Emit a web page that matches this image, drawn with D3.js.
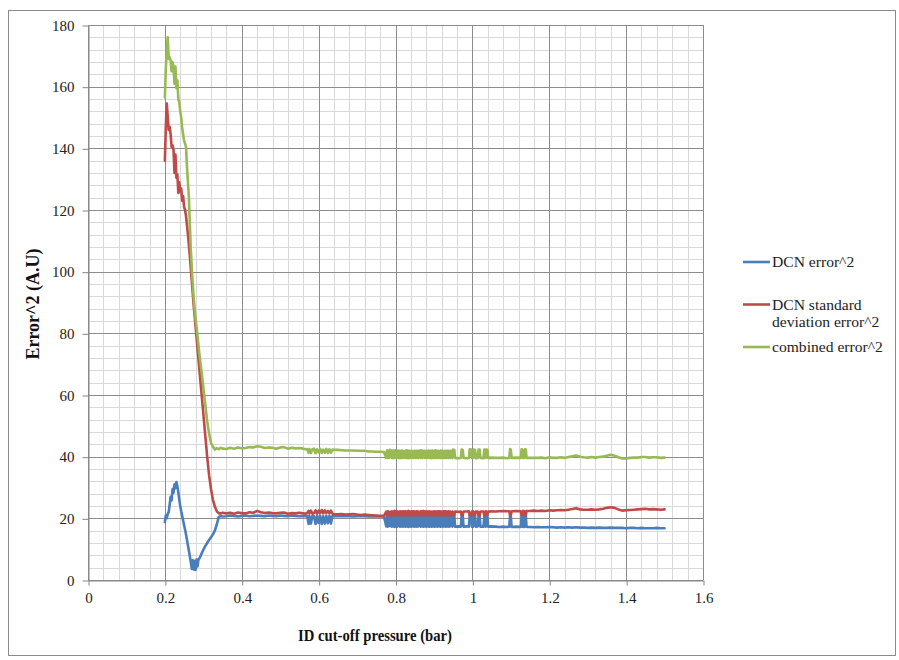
<!DOCTYPE html>
<html>
<head>
<meta charset="utf-8">
<script src="https://cdn.jsdelivr.net/npm/d3@7/dist/d3.min.js"></script>
<style>
  html, body { margin: 0; padding: 0; background: #ffffff; }
  svg { display: block; }
</style>
</head>
<body>
<svg id="chart" width="899" height="660"></svg>
<script>
// ID cut-off pressure (bar)
const pressure = [
  // steep region below 0.3 bar
  0.200, 0.2025, 0.205, 0.2075, 0.210, 0.2125, 0.215, 0.2175, 0.220, 0.2225,
  0.225, 0.2275, 0.230, 0.2325, 0.235, 0.2375, 0.240, 0.2425, 0.245, 0.2475,
  0.250, 0.2525, 0.255, 0.2575, 0.260, 0.2625, 0.265, 0.2675, 0.270, 0.2725,
  0.275, 0.2775, 0.280, 0.2825, 0.285, 0.2875, 0.290,
  0.295, 0.300, 0.305, 0.310, 0.315, 0.320, 0.325, 0.330, 0.335, 0.340, 0.345, 0.350,
  // plateau
  0.36, 0.37, 0.38, 0.39, 0.40, 0.41, 0.42, 0.43, 0.44, 0.45,
  0.46, 0.47, 0.48, 0.49, 0.50, 0.51, 0.52, 0.53, 0.54, 0.55, 0.56, 0.565, 0.570,
  0.574, 0.576, 0.580, 0.584, 0.588, 0.592, 0.596, 0.600, 0.604, 0.608,
  0.612, 0.616, 0.620, 0.624, 0.628, 0.632, 0.636,
  0.64, 0.65, 0.66, 0.67, 0.68, 0.69, 0.70, 0.71, 0.72, 0.73, 0.74, 0.75, 0.76, 0.77,
  // switching region
  0.776, 0.778, 0.780, 0.782, 0.784, 0.786, 0.788, 0.790, 0.792, 0.794,
  0.796, 0.798, 0.800, 0.802, 0.804, 0.806, 0.808, 0.810, 0.812, 0.814,
  0.816, 0.818, 0.820, 0.822, 0.824, 0.826, 0.828, 0.830, 0.832, 0.834,
  0.836, 0.838, 0.840, 0.842, 0.844, 0.846, 0.848, 0.850, 0.852, 0.854,
  0.856, 0.858, 0.860, 0.862, 0.864, 0.866, 0.868, 0.870, 0.872, 0.874,
  0.876, 0.878, 0.880, 0.882, 0.884, 0.886, 0.888, 0.890, 0.892, 0.894,
  0.896, 0.898, 0.900, 0.902, 0.904, 0.906, 0.908, 0.910, 0.912, 0.914,
  0.916, 0.918, 0.920, 0.922, 0.924, 0.926, 0.928, 0.930, 0.932, 0.934,
  0.936, 0.938, 0.940, 0.942, 0.944,
  // isolated switches
  0.948, 0.950, 0.953, 0.955, 0.965, 0.970, 0.972, 0.975, 0.977, 0.988,
  0.991, 0.993, 0.997, 0.999, 1.002, 1.004, 1.007, 1.009, 1.014, 1.016,
  1.019, 1.021, 1.029, 1.031, 1.033, 1.035, 1.037, 1.039, 1.041, 1.050,
  1.060, 1.070, 1.080, 1.090, 1.096, 1.098, 1.100, 1.102, 1.115, 1.126,
  1.128, 1.130, 1.132, 1.135, 1.137, 1.139, 1.141,
  // tail
  1.15, 1.16, 1.17, 1.18, 1.19, 1.20, 1.21, 1.22, 1.23, 1.24,
  1.25, 1.26, 1.27, 1.28, 1.29, 1.30, 1.31, 1.32, 1.33, 1.34,
  1.35, 1.36, 1.37, 1.38, 1.39, 1.40, 1.41, 1.42, 1.43, 1.44,
  1.45, 1.46, 1.47, 1.48, 1.49, 1.50
];

// DCN error^2
const dcnError = [
  18.8, 21.0, 20.0, 21.5, 22.0, 24.5, 27.0, 25.8, 29.5, 28.3,
  31.0, 29.8, 31.8, 30.4, 28.5, 26.0, 24.0, 22.3, 20.8, 19.3,
  17.8, 16.3, 14.8, 13.0, 11.2, 9.5, 7.6, 5.8, 3.6, 6.4,
  3.4, 6.2, 3.3, 6.6, 4.4, 6.8, 7.0,
  8.4, 9.8, 11.0, 12.0, 13.0, 13.9, 14.8, 16.0, 18.0, 20.4, 20.8, 20.6,
  20.7, 20.9, 20.8, 20.6, 20.8, 20.9, 20.7, 20.8, 20.9, 20.8,
  20.7, 20.9, 20.8, 20.7, 20.9, 20.8, 20.7, 20.9, 20.8, 20.7, 20.8, 20.7, 20.8,
  18.2, 20.8, 18.3, 20.8, 20.7, 18.2, 20.8, 18.5, 20.8, 18.2,
  20.7, 18.3, 20.8, 18.4, 20.8, 18.3, 20.8,
  20.7, 20.8, 20.7, 20.8, 20.7, 20.6, 20.7, 20.8, 20.7, 20.6, 20.7, 20.6, 20.7, 20.6,
  17.4, 21.0, 17.3, 20.9, 17.5, 21.1, 20.8, 17.3, 21.0, 17.4,
  20.9, 17.2, 21.1, 17.4, 17.3, 20.9, 17.5, 21.0, 17.3, 20.8,
  17.4, 21.0, 17.3, 17.4, 20.9, 17.3, 21.1, 17.4, 20.9, 17.2,
  21.0, 17.4, 20.8, 17.3, 21.0, 17.4, 17.3, 20.9, 17.4, 21.0,
  17.3, 20.9, 17.4, 21.0, 20.9, 17.3, 21.1, 17.4, 17.3, 20.9,
  17.4, 21.0, 17.3, 20.8, 17.4, 21.0, 17.3, 17.5, 20.9, 17.3,
  21.0, 17.4, 20.9, 17.3, 21.1, 17.4, 20.8, 17.3, 21.0, 17.4,
  17.3, 21.0, 17.4, 20.9, 17.3, 17.4, 21.0, 17.3, 20.9, 17.4,
  21.0, 17.3, 20.9, 17.4, 21.0,
  17.3, 21.0, 20.9, 17.3, 17.4, 17.3, 21.0, 20.9, 17.3, 17.4,
  17.3, 21.0, 20.9, 17.3, 17.3, 21.0, 20.9, 17.3, 17.4, 21.0,
  21.0, 17.3, 17.3, 21.0, 20.9, 17.3, 21.0, 20.9, 17.3, 17.4,
  17.3, 17.2, 17.3, 17.2, 17.3, 21.0, 20.9, 17.2, 17.3, 17.2,
  21.0, 20.9, 17.2, 17.2, 21.0, 20.9, 17.2,
  17.2, 17.1, 17.2, 17.1, 17.1, 17.2, 17.1, 17.0, 17.1, 17.0,
  17.1, 17.0, 17.1, 17.0, 17.0, 16.9, 17.0, 16.9, 17.0, 16.9,
  16.9, 17.0, 16.9, 16.9, 16.9, 16.8, 16.9, 16.9, 16.8, 16.9,
  16.8, 16.8, 16.8, 16.9, 16.8, 16.8
];

// DCN standard deviation error^2
const dcnStdError = [
  136.0, 147.0, 154.5, 150.0, 146.0, 147.0, 144.5, 140.5, 141.0, 139.5,
  132.0, 138.0, 130.5, 131.5, 125.5, 129.0, 126.0, 127.0, 123.0, 124.5,
  121.0, 120.0, 118.0, 115.0, 112.0, 108.5, 105.0, 101.0, 97.0, 93.0,
  89.0, 85.5, 82.0, 78.5, 75.0, 71.5, 68.0,
  61.0, 54.0, 47.0, 40.0, 34.0, 29.5, 26.0, 23.8, 22.3, 21.7, 21.6, 21.8,
  21.6, 21.8, 21.5, 21.9, 21.7, 21.6, 22.0, 21.8, 22.4, 22.0,
  21.7, 21.9, 21.7, 21.6, 21.8, 21.9, 21.5, 21.7, 21.6, 21.8, 21.6, 21.5, 21.7,
  22.4, 21.6, 22.5, 21.5, 21.7, 22.6, 21.5, 22.5, 21.7, 22.7,
  21.6, 22.6, 21.7, 22.4, 21.6, 22.5, 21.5,
  21.4, 21.3, 21.4, 21.2, 21.3, 21.4, 21.2, 21.1, 21.2, 21.1, 21.0, 20.9, 20.8, 20.8,
  22.2, 21.0, 22.3, 20.9, 22.1, 21.1, 21.0, 22.3, 20.9, 22.2,
  21.0, 22.4, 20.9, 22.2, 22.3, 21.0, 22.1, 20.9, 22.3, 21.1,
  22.2, 21.0, 22.3, 22.2, 20.9, 22.3, 21.0, 22.2, 21.1, 22.4,
  20.9, 22.2, 21.0, 22.3, 20.9, 22.2, 22.3, 21.0, 22.2, 20.9,
  22.3, 21.0, 22.2, 20.9, 21.1, 22.3, 21.0, 22.2, 22.4, 21.0,
  22.2, 20.9, 22.3, 21.1, 22.2, 21.0, 22.3, 22.1, 21.0, 22.2,
  21.0, 22.2, 20.9, 22.3, 21.0, 22.2, 21.1, 22.3, 20.9, 22.2,
  22.3, 21.0, 22.2, 21.0, 22.3, 22.2, 20.9, 22.3, 21.0, 22.2,
  20.9, 22.3, 21.0, 22.2, 20.9,
  22.2, 21.0, 21.0, 22.2, 22.1, 22.2, 21.0, 21.1, 22.2, 22.2,
  22.3, 21.0, 21.0, 22.2, 22.3, 21.0, 21.1, 22.2, 22.2, 21.0,
  21.0, 22.2, 22.2, 21.0, 21.0, 22.3, 21.0, 21.1, 22.2, 22.3,
  22.2, 22.3, 22.4, 22.3, 22.3, 21.0, 21.0, 22.3, 22.4, 22.3,
  21.0, 21.1, 22.4, 22.3, 21.0, 21.0, 22.4,
  22.4, 22.5, 22.4, 22.5, 22.4, 22.6, 22.5, 22.6, 22.7, 22.6,
  22.8, 23.0, 23.3, 22.9, 22.8, 22.8, 22.9, 22.8, 22.9, 23.1,
  23.4, 23.6, 23.4, 22.9, 22.5, 22.6, 22.7, 22.8, 22.9, 23.0,
  23.1, 22.9, 23.0, 22.9, 22.8, 22.9
];

// combined error^2
const combinedError = [
  156.5, 166.0, 172.0, 176.0, 169.0, 169.5, 168.5, 165.0, 168.0, 166.5,
  161.0, 166.5, 159.5, 162.0, 156.0, 155.0, 152.0, 150.0, 146.5, 144.5,
  142.5, 141.5, 140.5, 134.0, 129.0, 124.0, 115.0, 107.0, 101.0, 96.0,
  91.5, 87.5, 84.5, 82.0, 79.0, 76.0, 73.0,
  68.0, 62.5, 57.0, 51.5, 47.5, 44.5, 43.2, 42.3, 42.8, 42.4, 42.9, 42.6,
  42.5, 42.9, 42.6, 43.0, 42.7, 42.8, 43.1, 43.0, 43.4, 43.2,
  42.8, 43.0, 42.9, 42.6, 43.0, 43.1, 42.6, 42.9, 42.7, 42.8, 42.6, 42.4, 42.5,
  41.3, 42.5, 41.2, 42.4, 42.6, 41.1, 42.4, 41.4, 42.5, 41.2,
  42.3, 41.3, 42.5, 41.2, 42.4, 41.3, 42.3,
  42.2, 42.2, 42.1, 42.0, 42.0, 42.0, 41.9, 41.9, 41.9, 41.7, 41.7, 41.6, 41.6, 41.5,
  39.6, 42.1, 39.6, 41.9, 39.7, 42.2, 41.8, 39.6, 42.0, 39.5,
  42.0, 39.6, 42.1, 39.6, 39.7, 42.0, 39.6, 41.9, 39.5, 41.9,
  39.6, 42.0, 39.6, 39.7, 41.8, 39.6, 42.1, 39.6, 42.0, 39.5,
  41.9, 39.6, 41.8, 39.6, 41.9, 39.6, 39.7, 41.9, 39.6, 41.9,
  39.6, 41.9, 39.6, 41.9, 42.0, 39.6, 42.1, 39.6, 39.7, 41.9,
  39.6, 41.9, 39.6, 41.9, 39.6, 42.0, 39.6, 39.6, 41.9, 39.5,
  42.0, 39.6, 41.8, 39.6, 42.1, 39.6, 41.9, 39.6, 41.9, 39.6,
  39.6, 42.0, 39.6, 41.9, 39.6, 39.6, 41.9, 39.6, 41.9, 39.6,
  41.9, 39.6, 41.9, 39.6, 41.9,
  39.6, 42.3, 42.2, 39.6, 39.5, 39.6, 42.3, 42.2, 39.6, 39.5,
  39.6, 42.4, 42.3, 39.6, 39.6, 42.3, 42.2, 39.5, 39.6, 42.3,
  42.3, 39.6, 39.5, 42.3, 42.2, 39.6, 42.3, 42.2, 39.6, 39.7,
  39.6, 39.6, 39.7, 39.5, 39.6, 42.5, 42.3, 39.6, 39.7, 39.6,
  42.4, 42.3, 39.6, 39.6, 42.4, 42.3, 39.6,
  39.6, 39.6, 39.6, 39.7, 39.5, 39.8, 39.6, 39.6, 39.8, 39.6,
  39.9, 40.1, 40.4, 40.0, 39.8, 39.7, 39.9, 39.7, 39.9, 40.0,
  40.3, 40.6, 40.3, 39.8, 39.4, 39.4, 39.6, 39.7, 39.7, 39.9,
  39.9, 39.7, 39.8, 39.8, 39.6, 39.7
];

const seriesNames = ["DCN error^2", "DCN standard deviation error^2", "combined error^2"];
const seriesColors = ["#4a7ebb", "#be4b48", "#98b954"];
const xTickValues = [0, 0.2, 0.4, 0.6, 0.8, 1, 1.2, 1.4, 1.6];
const xTickLabels = ["0", "0.2", "0.4", "0.6", "0.8", "1", "1.2", "1.4", "1.6"];
const yTickValues = [0, 20, 40, 60, 80, 100, 120, 140, 160, 180];
const yTickLabels = ["0", "20", "40", "60", "80", "100", "120", "140", "160", "180"];
const xTitle = "ID cut-off pressure (bar)";
const yTitle = "Error^2  (A.U)";

const FONT = "'Liberation Serif', 'Times New Roman', serif";
const svg = d3.select("#chart");

// chart frame
svg.append("rect")
  .attr("x", 8.5).attr("y", 10.5).attr("width", 887).attr("height", 645)
  .attr("fill", "#fff").attr("stroke", "#8a8a8a").attr("stroke-width", 1);

const x = d3.scaleLinear().domain([0, 1.6]).range([88, 703]);
const y = d3.scaleLinear().domain([0, 180]).range([580, 25]);
const crisp = v => Math.round(v) + 0.5;

// gridlines: minor every 0.04 / 4, major on the labelled ticks
const grid = svg.append("g");
const xMinor = d3.range(0, 41).map(i => i * 0.04).filter((d, i) => i % 5 !== 0);
const yMinor = d3.range(0, 46).map(i => i * 4).filter((d, i) => i % 5 !== 0);
grid.selectAll(".vmin").data(xMinor).join("line")
  .attr("x1", d => crisp(x(d))).attr("x2", d => crisp(x(d)))
  .attr("y1", y(180)).attr("y2", y(0))
  .attr("stroke", "#d9d9d9").attr("stroke-width", 1);
grid.selectAll(".hmin").data(yMinor).join("line")
  .attr("x1", x(0)).attr("x2", x(1.6))
  .attr("y1", d => crisp(y(d))).attr("y2", d => crisp(y(d)))
  .attr("stroke", "#d9d9d9").attr("stroke-width", 1);
grid.selectAll(".vmaj").data(xTickValues).join("line")
  .attr("x1", d => crisp(x(d))).attr("x2", d => crisp(x(d)))
  .attr("y1", y(180)).attr("y2", y(0))
  .attr("stroke", "#8c8c8c").attr("stroke-width", 1);
grid.selectAll(".hmaj").data(yTickValues).join("line")
  .attr("x1", x(0)).attr("x2", x(1.6))
  .attr("y1", d => crisp(y(d))).attr("y2", d => crisp(y(d)))
  .attr("stroke", "#8c8c8c").attr("stroke-width", 1);

// axes
const yAxis = d3.axisLeft(y)
  .tickValues(yTickValues)
  .tickFormat((d, i) => yTickLabels[i])
  .tickSize(6).tickSizeOuter(0).tickPadding(8);
const gy = svg.append("g").attr("transform", "translate(" + crisp(x(0)) + ",0.5)").call(yAxis);

const xAxis = d3.axisBottom(x)
  .tickValues(xTickValues)
  .tickFormat((d, i) => xTickLabels[i])
  .tickSize(5).tickSizeOuter(0).tickPadding(7);
const gx = svg.append("g").attr("transform", "translate(0.5," + crisp(y(0)) + ")").call(xAxis);

[gx, gy].forEach(g => {
  g.attr("font-family", null).attr("font-size", null);
  g.select(".domain").attr("stroke", "#868686");
  g.selectAll(".tick line").attr("stroke", "#868686");
  g.selectAll(".tick text")
    .attr("fill", "#222")
    .style("font-family", FONT)
    .style("font-size", "15px");
});

// series lines
const rows = pressure.map((p, i) => ({ p, v: [dcnError[i], dcnStdError[i], combinedError[i]] }));
const lines = svg.append("g");
seriesNames.forEach((name, k) => {
  const line = d3.line().x(d => x(d.p)).y(d => y(d.v[k]));
  lines.append("path")
    .datum(rows)
    .attr("d", line)
    .attr("fill", "none")
    .attr("stroke", seriesColors[k])
    .attr("stroke-width", 2.6)
    .attr("stroke-linejoin", "round")
    .attr("stroke-linecap", "round");
});

// axis titles
svg.append("text")
  .attr("x", 375).attr("y", 641)
  .attr("text-anchor", "middle")
  .attr("fill", "#111")
  .style("font-family", FONT)
  .style("font-weight", "bold").style("font-size", "16px")
  .attr("textLength", 154).attr("lengthAdjust", "spacingAndGlyphs")
  .text(xTitle);

svg.append("text")
  .attr("transform", "translate(39,304) rotate(-90)")
  .attr("text-anchor", "middle")
  .attr("fill", "#111")
  .style("font-family", FONT)
  .style("font-weight", "bold").style("font-size", "18px")
  .text(yTitle);

// legend
const legend = svg.append("g").attr("transform", "translate(743,0)");
const legendRows = [
  { y: 262, lines: [seriesNames[0]] },
  { y: 304.5, lines: ["DCN standard", "deviation error^2"] },
  { y: 347, lines: [seriesNames[2]] }
];
legendRows.forEach((r, k) => {
  legend.append("line")
    .attr("x1", 0).attr("x2", 27).attr("y1", r.y).attr("y2", r.y)
    .attr("stroke", seriesColors[k]).attr("stroke-width", 2.6);
  const t = legend.append("text")
    .attr("x", 29).attr("y", r.y + 5)
    .attr("fill", "#222")
    .style("font-family", FONT)
    .style("font-size", "15.6px");
  r.lines.forEach((s, j) => {
    t.append("tspan").attr("x", 29).attr("dy", j === 0 ? 0 : 17.5).text(s);
  });
});
</script>
</body>
</html>
